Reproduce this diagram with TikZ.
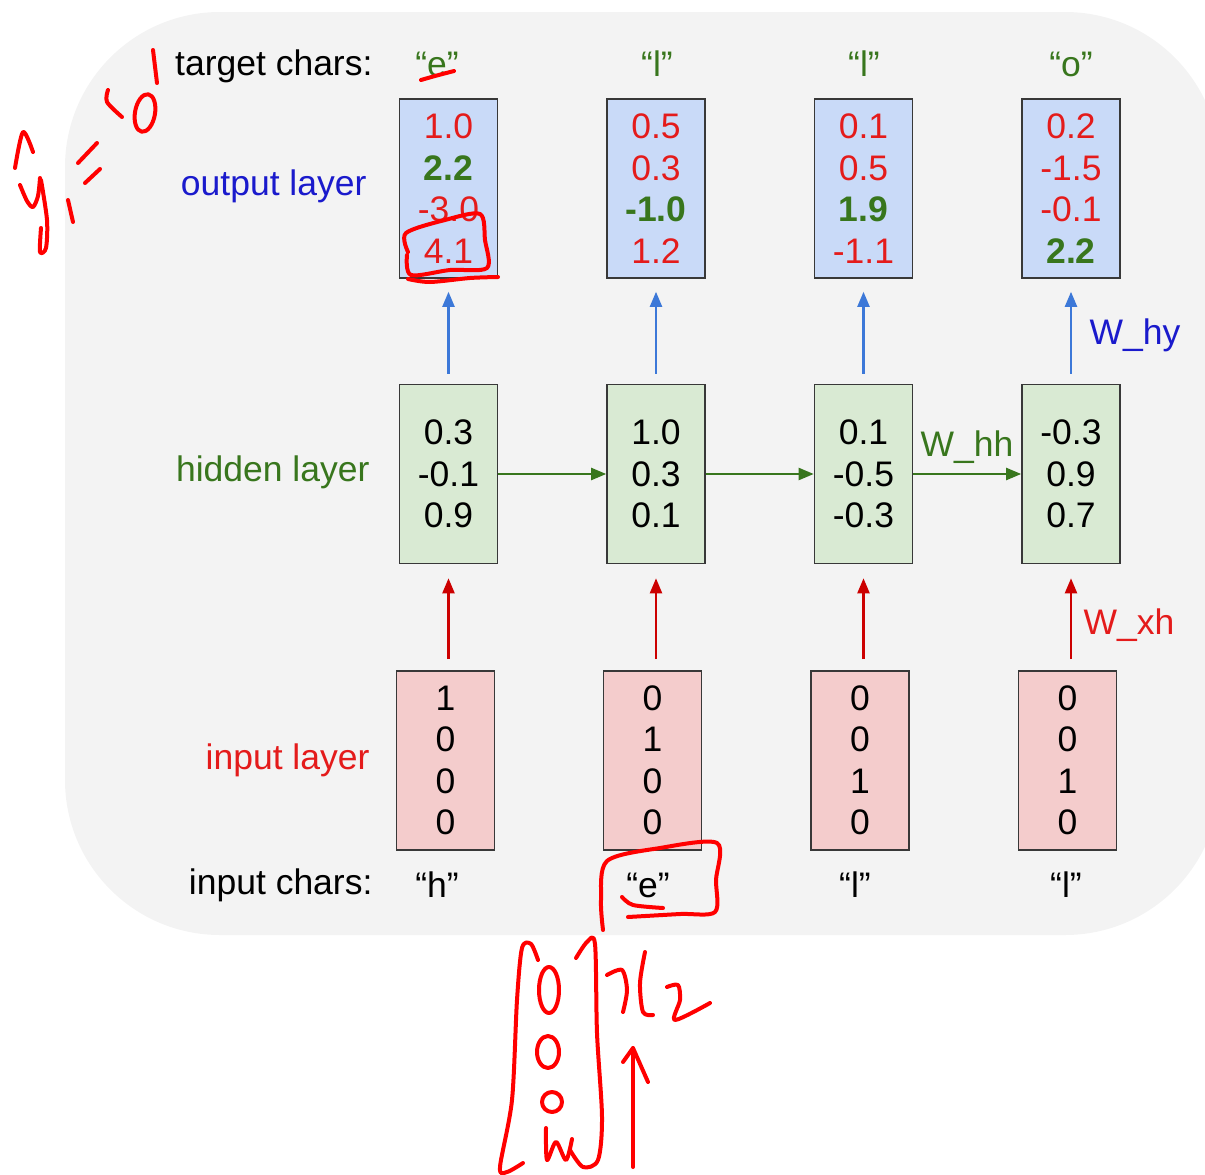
\documentclass[tikz,border=0pt]{standalone}
\usepackage{fontspec}
\setmainfont{Liberation Sans}
\usetikzlibrary{arrows.meta,calc,positioning}
\definecolor{bggray}{HTML}{F3F3F3}
\definecolor{boxedge}{HTML}{383838}
\definecolor{outblue}{HTML}{C9DAF8}
\definecolor{hidgreen}{HTML}{D9EAD3}
\definecolor{inred}{HTML}{F4CCCC}
\definecolor{textblue}{HTML}{1A1ACC}
\definecolor{arrowblue}{HTML}{3C78D8}
\definecolor{darkgreen}{HTML}{38761D}
\definecolor{valred}{HTML}{E41B1B}
\definecolor{arrowred}{HTML}{CC0000}
\definecolor{inkred}{HTML}{FF0000}
\newcommand{\rv}{\color{valred}\mdseries}
\newcommand{\gv}{\color{darkgreen}\bfseries}
\tikzset{
  every node/.style={font=\fontsize{35.5}{41.5}\selectfont},
  cell/.style={draw=boxedge,line width=1.6pt,minimum width=98pt,minimum height=179pt,
    align=center,inner sep=0pt},
  outcell/.style={cell,fill=outblue},
  hidcell/.style={cell,fill=hidgreen},
  incell/.style={cell,fill=inred},
  hyarrow/.style={-{Triangle[length=15pt,width=12pt]},draw=arrowblue,line width=2.2pt,
    shorten <=10pt,shorten >=13pt},
  xharrow/.style={-{Triangle[length=15pt,width=12pt]},draw=arrowred,line width=2.2pt,
    shorten <=11pt,shorten >=14pt},
  hharrow/.style={-{Triangle[length=15pt,width=12pt]},draw=darkgreen,line width=2.2pt},
  scribble/.style={draw=inkred,line width=4pt,line cap=round,line join=round}}

\begin{document}
\begin{tikzpicture}[x=1pt,y=-1pt]
\clip (0,0) rectangle (1205,1175);
\fill[bggray,rounded corners=155pt] (65,12) rectangle (1220,935);

% row labels
\node[anchor=east] (tlab) at (376,66) {target chars:};
\node[anchor=east,text=textblue] (olab) at (370,186) {output layer};
\node[anchor=east,text=darkgreen] (hlab) at (373,472) {hidden layer};
\node[anchor=east,text=valred] (ilab) at (373,760) {input layer};
\node[anchor=east] (clab) at (376,885) {input chars:};

% output layer
\node[outcell] (o1) at (448.5,188.5) {\rv 1.0\\\gv 2.2\\\rv -3.0\\\rv 4.1};
\node[outcell] (o2) at (656,188.5) {\rv 0.5\\\rv 0.3\\\gv -1.0\\\rv 1.2};
\node[outcell] (o3) at (863.5,188.5) {\rv 0.1\\\rv 0.5\\\gv 1.9\\\rv -1.1};
\node[outcell] (o4) at (1071,188.5) {\rv 0.2\\\rv -1.5\\\rv -0.1\\\gv 2.2};

% hidden layer
\node[hidcell] (h1) at (448.5,474) {0.3\\-0.1\\0.9};
\node[hidcell] (h2) at (656,474) {1.0\\0.3\\0.1};
\node[hidcell] (h3) at (863.5,474) {0.1\\-0.5\\-0.3};
\node[hidcell] (h4) at (1071,474) {-0.3\\0.9\\0.7};

% input layer
\node[incell] (i1) at (445.5,760.5) {1\\0\\0\\0};
\node[incell] (i2) at (652.5,760.5) {0\\1\\0\\0};
\node[incell] (i3) at (860,760.5) {0\\0\\1\\0};
\node[incell] (i4) at (1067.5,760.5) {0\\0\\1\\0};

% chars
\node[text=darkgreen] (t1) at (437,64) {“e”};
\node[text=darkgreen] (t2) at (657,64) {“l”};
\node[text=darkgreen] (t3) at (864,64) {“l”};
\node[text=darkgreen] (t4) at (1071,64) {“o”};
\node (c1) at (437,885) {“h”};
\node (c2) at (648,885) {“e”};
\node (c3) at (855,885) {“l”};
\node (c4) at (1066,885) {“l”};

% connectors
\foreach \k in {1,...,4}{
  \draw[hyarrow] (h\k) -- (o\k);
  \draw[xharrow] (i\k.north -| h\k) -- (h\k);
}
\foreach \a/\b in {1/2,2/3,3/4}
  \draw[hharrow] (h\a) -- (h\b);
\node[text=textblue] (why) at (1135,335) {W\_hy};
\node[text=darkgreen] (whh) at (967,447) {W\_hh};
\node[text=valred] (wxh) at (1129,625) {W\_xh};

% handwritten notes
\draw[scribble] plot[smooth] coordinates {(15,168) (23,132) (33,152)};
\draw[scribble] plot[smooth] coordinates {(20,185) (27,201) (33,207) (38,196) (40,178)};
\draw[scribble] plot[smooth] coordinates {(41,180) (47,220) (46,248) (40,252) (41,228)};
\draw[scribble] (68,200) -- (73,222);
\draw[scribble] (78,163) -- (97,143) (85,183) -- (100,169);
\draw[scribble] plot[smooth] coordinates {(108,90) (107,102) (122,117)};
\draw[scribble,rotate around={-10:(145,113)}] (145,113) ellipse[x radius=10,y radius=19];
\draw[scribble] (153,50) -- (157,83);
\draw[scribble] plot[smooth] coordinates {(421,80) (435,76) (454,71)};
\draw[scribble] plot[smooth] coordinates {(408,252) (406,233) (445,220) (480,214) (485,240)
  (487,268) (450,270) (411,275) (407,255)};
\draw[scribble] plot[smooth] coordinates {(408,279) (430,282) (470,278) (498,277)};
\draw[scribble] plot[smooth] coordinates {(603,930) (601,900) (607,861) (660,848) (717,843)
  (716,880) (715,912) (680,914) (628,917)};
\draw[scribble] plot[smooth] coordinates {(622,897) (633,905) (663,908)};
\draw[scribble] plot[smooth] coordinates {(538,960) (531,944) (522,948) (517,1000) (512,1100)
  (500,1167) (507,1172) (523,1163)};
\draw[scribble] plot[smooth] coordinates {(576,958) (587,942) (595,944) (597,1033) (602,1117)
  (598,1160) (583,1167) (570,1150)};
\draw[scribble] (549,990) ellipse[x radius=10,y radius=23];
\draw[scribble] (548,1052) ellipse[x radius=11,y radius=16];
\draw[scribble] (552,1102) ellipse[x radius=10,y radius=10];
\draw[scribble] plot[smooth] coordinates {(546,1128) (547,1160) (556,1142) (566,1160) (572,1139)};
\draw[scribble] plot[smooth] coordinates {(607,975) (622,970) (627,990) (623,1012)};
\draw[scribble] plot[smooth] coordinates {(645,952) (640,983) (643,1012) (653,1015)};
\draw[scribble] plot[smooth] coordinates {(667,987) (678,985) (680,1000) (675,1020) (710,1003)};
\draw[scribble] (633,1167) -- (633,1048);
\draw[scribble] (623,1062) -- (633,1048) -- (648,1082);
\end{tikzpicture}
\end{document}
